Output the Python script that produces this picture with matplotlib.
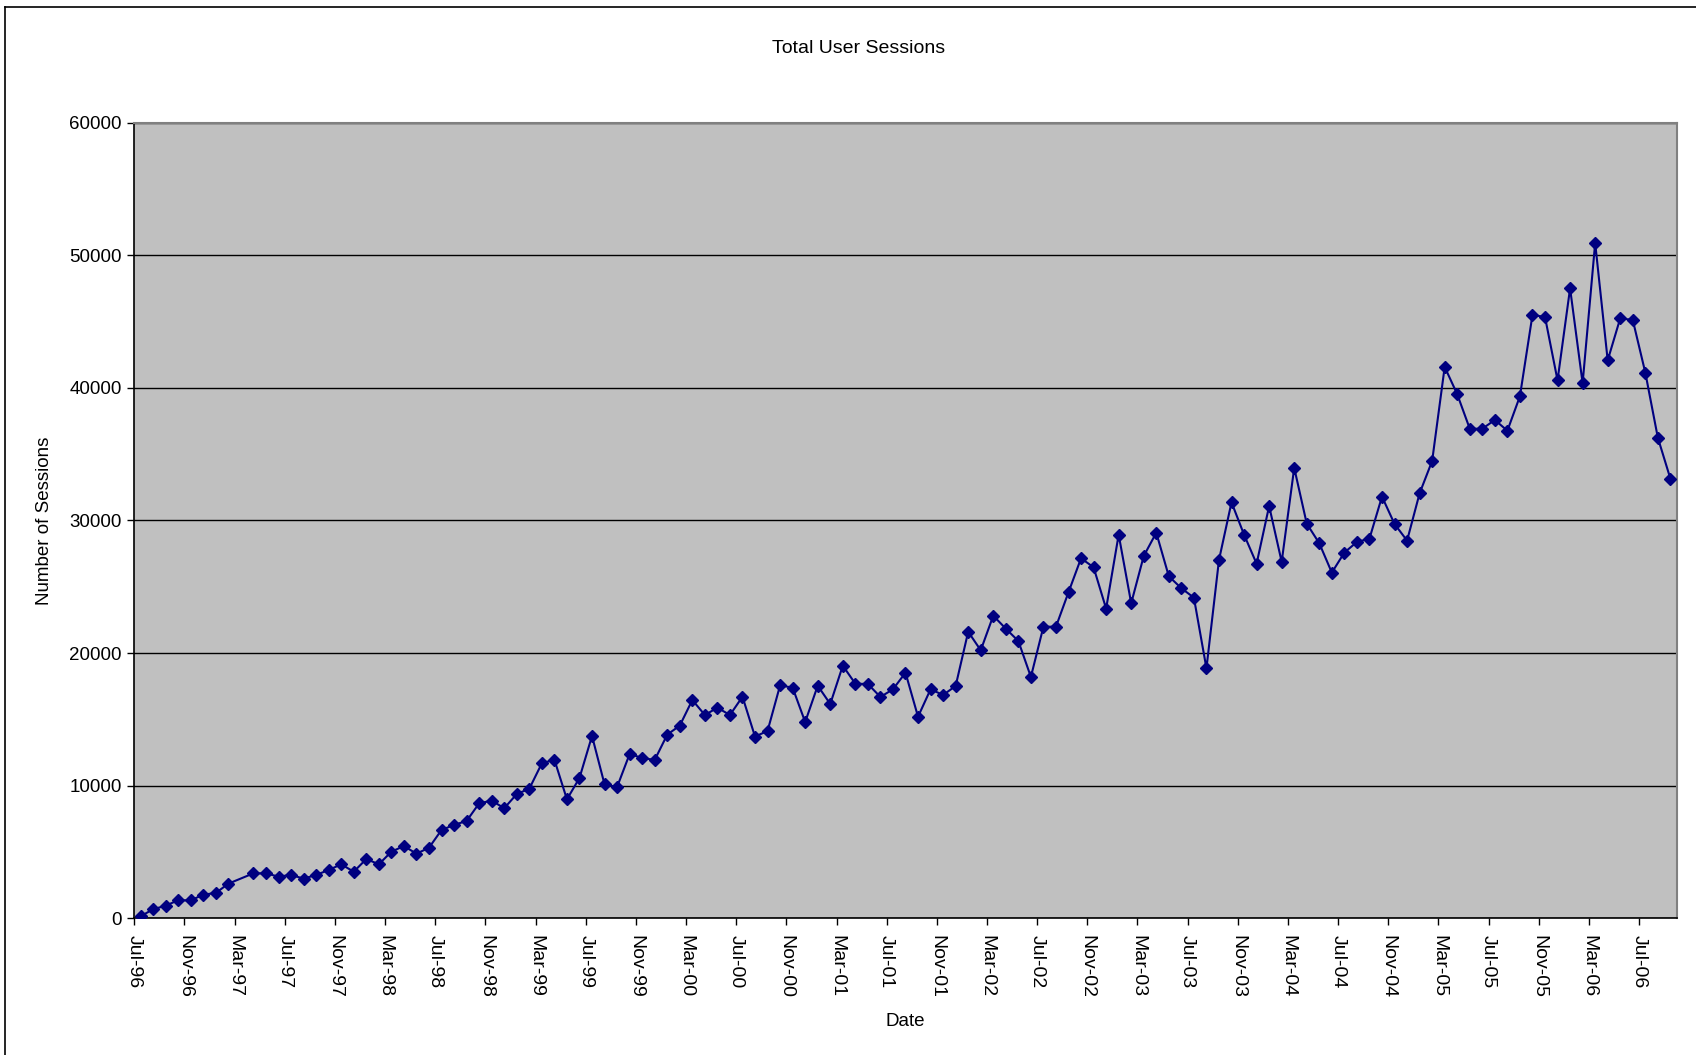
import matplotlib
matplotlib.use('Agg')
import matplotlib.pyplot as plt
from matplotlib.lines import Line2D
import numpy as np
import pandas as pd

plt.rcParams['font.family'] = ['Liberation Sans', 'DejaVu Sans']

# monthly totals, Jul-96 .. Sep-06 (no figure recorded for Mar-97)
months = pd.period_range('1996-07', '2006-09', freq='M')
sessions = [
    150, 680, 950, 1360, 1350, 1780, 1910, 2610, np.nan, 3390, 3390, 3140,        # Jul-96 .. Jun-97
    3270, 2990, 3270, 3640, 4070, 3510, 4470, 4070, 5020, 5450, 4870, 5320,       # Jul-97 .. Jun-98
    6660, 7040, 7340, 8670, 8870, 8300, 9370, 9770, 11690, 11960, 8970, 10580,    # Jul-98 .. Jun-99
    13750, 10100, 9900, 12390, 12090, 11940, 13850, 14530, 16460, 15330, 15880, 15330,  # Jul-99 .. Jun-00
    16710, 13700, 14130, 17570, 17390, 14800, 17540, 16160, 19050, 17690, 17670, 16690,  # Jul-00 .. Jun-01
    17270, 18520, 15200, 17270, 16840, 17520, 21610, 20210, 22820, 21840, 20910, 18200,  # Jul-01 .. Jun-02
    21990, 21990, 24590, 27150, 26470, 23350, 28930, 23760, 27320, 29080, 25790, 24890,  # Jul-02 .. Jun-03
    24180, 18850, 27020, 31370, 28930, 26740, 31090, 26880, 33970, 29760, 28280, 26070,  # Jul-03 .. Jun-04
    27580, 28380, 28630, 31800, 29740, 28480, 32050, 34490, 41580, 39520, 36920, 36920,  # Jul-04 .. Jun-05
    37580, 36770, 39370, 45500, 45350, 40570, 47510, 40350, 50930, 42080, 45250, 45120,  # Jul-05 .. Jun-06
    41150, 36240, 33150,                                                          # Jul-06 .. Sep-06
]
y_ticks = [0, 10000, 20000, 30000, 40000, 50000, 60000]

sessions = np.array(sessions, dtype=float)
xpos = np.arange(len(months)) + 0.5
ok = ~np.isnan(sessions)

fig = plt.figure(figsize=(16.96, 10.55), dpi=100)
ax = fig.add_axes([0.0792, 0.1296, 0.9094, 0.7541])
ax.set_facecolor('#c0c0c0')

ax.plot(xpos[ok], sessions[ok], '-', color='#000080', lw=1.5,
        marker='D', markersize=6, markerfacecolor='#000080',
        markeredgecolor='#000080', zorder=3)

ax.set_xlim(0, len(months))
ax.set_ylim(0, 60000)
ax.set_yticks(y_ticks)
ax.set_yticklabels([str(v) for v in y_ticks])
ax.yaxis.grid(True, color='black', lw=1.0)
ax.set_axisbelow(True)

tick_idx = np.arange(0, len(months), 4)
ax.set_xticks(tick_idx)
ax.set_xticklabels([months[i].strftime('%b-%y') for i in tick_idx],
                   rotation=-90, va='top', ha='center')

ax.tick_params(axis='both', direction='out', length=5, width=1, labelsize=13.5,
               colors='black')
ax.tick_params(axis='x', pad=7, labelsize=14)
ax.tick_params(axis='y', pad=4)

for side in ('left', 'bottom'):
    ax.spines[side].set_color('black')
    ax.spines[side].set_linewidth(1.2)
for side in ('top', 'right'):
    ax.spines[side].set_color('#808080')
    ax.spines[side].set_linewidth(1.5)

ax.set_xlabel('Date', fontsize=13.5, labelpad=11)
ax.set_ylabel('Number of Sessions', fontsize=13.5, labelpad=12)
fig.text(859 / 1696, 1 - 53 / 1055, 'Total User Sessions', fontsize=14,
         ha='center', va='baseline')

# chart border (left and top edges only fall inside the image)
fig.add_artist(Line2D([5 / 1696, 5 / 1696], [0, 1 - 7 / 1055],
                      transform=fig.transFigure, color='black', lw=1.2))
fig.add_artist(Line2D([5 / 1696, 1], [1 - 7 / 1055, 1 - 7 / 1055],
                      transform=fig.transFigure, color='black', lw=1.2))

fig.savefig('out.png', dpi=100)
